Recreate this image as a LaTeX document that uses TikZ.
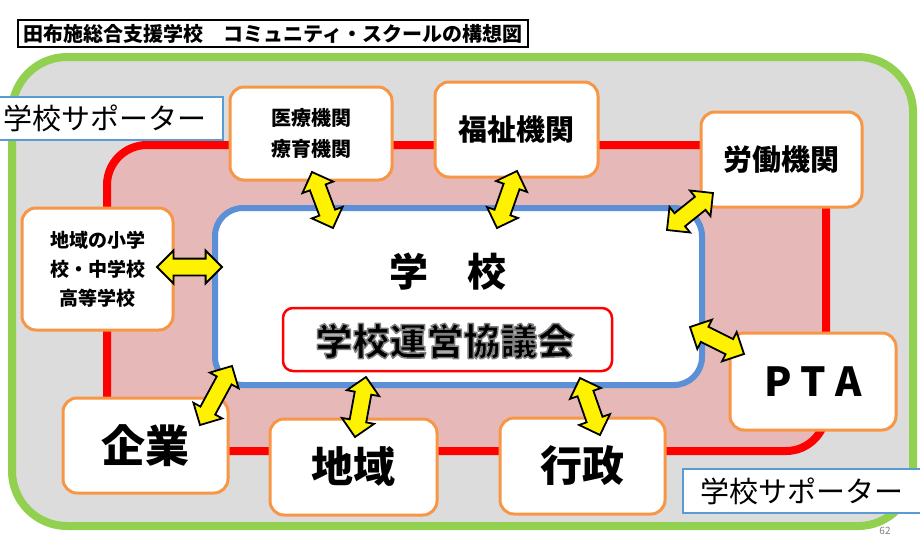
\documentclass[tikz,border=0pt]{standalone}
\usepackage{fontspec}
\setmainfont{Noto Sans CJK JP}
\usetikzlibrary{shapes.arrows,calc}
\definecolor{grn}{HTML}{92D050}
\definecolor{gry}{HTML}{DCDCDC}
\definecolor{pnk}{HTML}{E6B9B8}
\definecolor{blu}{HTML}{5B8FD6}
\definecolor{org}{HTML}{F79646}
\definecolor{sblu}{HTML}{5B9BD5}
\tikzset{
  obox/.style={draw=org, line width=3pt, fill=white, rounded corners=14pt, font=\bfseries, align=center, inner sep=0pt},
  dbl/.style={double arrow, draw=black, fill=yellow, line width=1.8pt, inner xsep=0pt, inner ysep=7.5pt,
    double arrow head extend=8pt, double arrow tip angle=90, minimum width=31pt},
  suppbox/.style={draw=sblu, line width=2pt, fill=white, inner sep=0pt},
  supptext/.style={font=\fontsize{29}{30}\selectfont, anchor=west, inner sep=0pt}
}
\newcommand{\dblarr}[2]{\path let \p1=($(#2)-(#1)$), \n1={veclen(\x1,\y1)} in (#1) -- (#2) node[dbl, midway, sloped, minimum height=\n1]{};}
\newcommand{\glowtext}[1]{\special{pdf:literal direct 2 Tr 0.5 G 1.5 w 1 j}#1\special{pdf:literal direct 0 Tr}}
\begin{document}
\begin{tikzpicture}[x=1pt,y=-1pt]
\useasboundingbox (0,0) rectangle (920,550);
% title
\node[draw, line width=1.2pt, fill=white, minimum width=510, minimum height=27, inner sep=0pt,
  font=\fontsize{20}{20}\bfseries\selectfont] (title) at (273,33.5) {田布施総合支援学校　コミュニティ・スクールの構想図};
% outer areas
\draw[grn, line width=8pt, fill=gry, rounded corners=55pt] (12,57) rectangle (913,526);
\draw[red, line width=8pt, fill=pnk, rounded corners=40pt] (107,145) rectangle (826,451);
% school
\node[draw=blu, line width=6pt, fill=white, rounded corners=28pt, minimum width=487, minimum height=177, inner sep=0pt] (school) at (458.5,296.5) {};
\node[font=\fontsize{39}{40}\bfseries\selectfont, inner sep=0pt] (gakko) at (448,272) {学　校};
\node[draw=red, line width=2.5pt, fill=white, rounded corners=10pt, minimum width=329, minimum height=63, inner sep=0pt] (kyo) at (447.5,339.5) {};
\node[font=\fontsize{37}{40}\bfseries\selectfont, inner sep=0pt] (kyot) at (445,341) {\glowtext{学校運営協議会}};
% satellites
\node[obox, minimum width=162, minimum height=93, font=\fontsize{20}{31}\bfseries\selectfont] (iryo) at (311,133.5) {医療機関\\療育機関};
\node[obox, minimum width=163, minimum height=95, font=\fontsize{29}{30}\bfseries\selectfont] (fukushi) at (516.5,129.5) {福祉機関};
\node[obox, minimum width=161, minimum height=95, font=\fontsize{29}{30}\bfseries\selectfont] (roudou) at (781.5,159.5) {労働機関};
\node[obox, minimum width=151, minimum height=122, font=\fontsize{19}{29}\bfseries\selectfont] (shou) at (97.5,269) {地域の小学\\校・中学校\\高等学校};
\node[obox, minimum width=166, minimum height=97, font=\fontsize{40}{40}\bfseries\selectfont] (pta) at (813,381.5) {P T A};
\node[obox, minimum width=165, minimum height=95, font=\fontsize{44}{44}\bfseries\selectfont] (kigyo) at (145.5,445.5) {企業};
\node[obox, minimum width=167, minimum height=96, font=\fontsize{42}{42}\bfseries\selectfont] (chiiki) at (353.5,467) {地域};
\node[obox, minimum width=165, minimum height=96, font=\fontsize{42}{42}\bfseries\selectfont] (gyosei) at (582.5,466) {行政};
% arrows
\coordinate (a1) at (312,172); \coordinate (b1) at (333,228);
\coordinate (a2) at (517,171); \coordinate (b2) at (497,228);
\coordinate (a3) at (713,193); \coordinate (b3) at (667,230);
\coordinate (a4) at (157,267); \coordinate (b4) at (222,267);
\coordinate (a5) at (690,327); \coordinate (b5) at (744,354);
\coordinate (a6) at (232,366); \coordinate (b6) at (200,425);
\coordinate (a7) at (366,377); \coordinate (b7) at (355,437);
\coordinate (a8) at (580,378); \coordinate (b8) at (600,435);
\dblarr{a1}{b1}
\dblarr{a2}{b2}
\dblarr{a3}{b3}
\dblarr{a4}{b4}
\dblarr{a5}{b5}
\dblarr{a6}{b6}
\dblarr{a7}{b7}
\dblarr{a8}{b8}
% supporters
\node[suppbox, minimum width=225, minimum height=43] (sup1) at (110.5,118.5) {};
\node[supptext] (sup1t) at ($(sup1.west)+(6,0)$) {学校サポーター};
\node[suppbox, minimum width=239, minimum height=44] (sup2) at (802.5,491) {};
\node[supptext] (sup2t) at ($(sup2.west)+(18,0)$) {学校サポーター};
% page number
\node[text=black!50, font=\fontsize{10}{10}\selectfont, inner sep=0pt] (pg) at (885,531) {62};
\end{tikzpicture}
\end{document}
